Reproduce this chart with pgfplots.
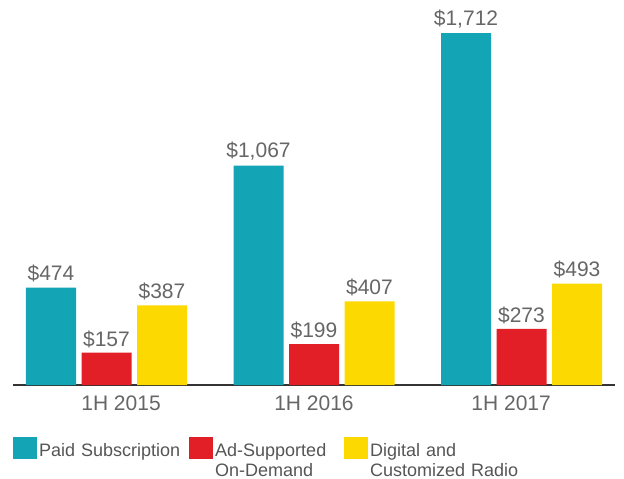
\documentclass[border=0pt]{standalone}
\usepackage{pgfplots}
\pgfplotsset{compat=1.18}
\usepackage{fontspec}
\setmainfont{Liberation Sans}
\definecolor{cteal}{HTML}{13A5B5}
\definecolor{cred}{HTML}{E21F27}
\definecolor{cyel}{HTML}{FCD900}
\definecolor{ctxt}{HTML}{666666}
\definecolor{cleg}{HTML}{555555}
\definecolor{caxis}{HTML}{333333}
\pgfkeys{/pgf/number format/.cd, assume math mode=true, 1000 sep={,}}
\begin{document}
\begin{tikzpicture}
\useasboundingbox (0bp,0bp) rectangle (624bp,479bp);
\begin{axis}[
  at={(106.5bp,94bp)}, anchor=origin,
  scale only axis, width=602bp, height=385bp,
  xmin=-0.450602, xmax=2.450602, ymin=0, ymax=1872.6,
  clip=false,
  ybar=5.5bp, bar width=50bp,
  hide y axis,
  axis x line=bottom,
  x axis line style={draw=caxis, line width=1.6bp, -},
  xtick={0.07,1,1.95},
  xticklabels={1H 2015,1H 2016,1H 2017},
  major tick length=0pt,
  xticklabel style={font=\fontsize{21bp}{24bp}\selectfont, text=ctxt, anchor=north, inner sep=0pt, yshift=-11bp},
  nodes near coords={\$\pgfmathprintnumber{\pgfplotspointmeta}},
  every node near coord/.append style={font=\fontsize{21bp}{24bp}\selectfont, text=ctxt, anchor=south, inner sep=0pt, yshift=5bp},
  legend columns=3,
  legend style={at={(0,0)}, anchor=north west, yshift=-52bp, draw=none, fill=none,
    inner sep=0pt, column sep=0pt, row sep=0pt,
    font=\fontsize{18bp}{20bp}\selectfont, text=cleg,
    cells={anchor=north west},
    nodes={inner xsep=2bp, inner ysep=0pt, align=left}},
  legend image code/.code={\fill[#1,draw=none] (0bp,6bp) rectangle (24bp,-16bp);},
]
\addplot[fill=cteal, draw=none] coordinates {(0,474) (1,1067) (2,1712)};
\addlegendentry[text width=148bp]{Paid Subscription}
\addplot[fill=cred, draw=none] coordinates {(0,157) (1,199) (2,273)};
\addlegendentry[text width=127bp]{Ad-Supported\\On-Demand}
\addplot[fill=cyel, draw=none] coordinates {(0,387) (1,407) (2,493)};
\addlegendentry[text width=160bp]{Digital and\\Customized Radio}
\end{axis}
\end{tikzpicture}
\end{document}
